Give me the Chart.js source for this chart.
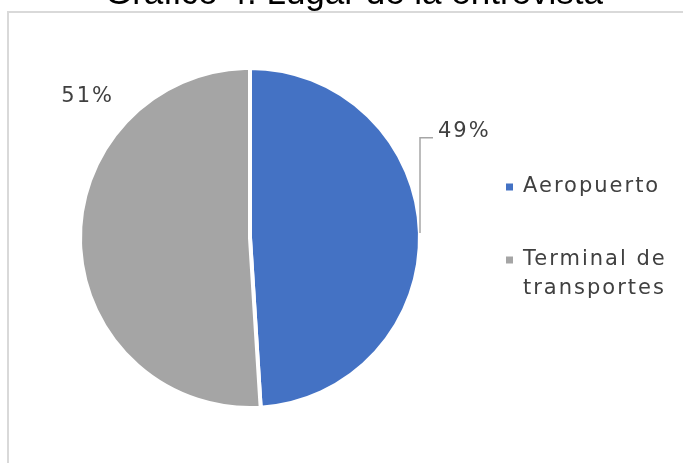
<!DOCTYPE html>
<html>
<head>
<meta charset="utf-8">
<script src="https://cdn.jsdelivr.net/npm/chart.js@4.4.0/dist/chart.umd.min.js"></script>
<style>
  html, body { margin: 0; padding: 0; background: #fff; overflow: hidden; }
  #wrap { position: relative; width: 683px; height: 463px; }
</style>
</head>
<body>
<div id="wrap"><canvas id="pieChart" width="683" height="463"></canvas></div>
<script>
// ===== data =====
const chartTitle = 'Gráfico 4. Lugar de la entrevista';
const categories = ['Aeropuerto', 'Terminal de transportes'];
const legendLines = [['Aeropuerto'], ['Terminal de', 'transportes']];
const shares = [49, 51];

const sliceColors = ['#4472C4', '#A5A5A5'];
const textColor = '#404040';
const labelFont = '21px "DejaVu Sans", sans-serif';

// frame, title, percentage labels and legend drawn around the pie
const pieDecor = {
  id: 'pieDecor',
  beforeDraw(chart) {
    const ctx = chart.ctx;
    ctx.save();
    ctx.strokeStyle = '#d9d9d9';
    ctx.lineWidth = 2;
    ctx.strokeRect(8, 12, 720, 520);
    ctx.fillStyle = '#000';
    ctx.font = '35px "Liberation Sans", Arial, sans-serif';
    ctx.textAlign = 'center';
    ctx.textBaseline = 'alphabetic';
    ctx.fillText(chartTitle, 354, 4);
    ctx.restore();
  },
  afterDraw(chart) {
    const ctx = chart.ctx;
    const arcs = chart.getDatasetMeta(0).data;
    const cx = arcs[0].x, cy = arcs[0].y, r = arcs[0].outerRadius;
    ctx.save();
    ctx.font = labelFont;
    ctx.letterSpacing = '2px';
    ctx.fillStyle = textColor;
    ctx.textBaseline = 'middle';

    // 49% with leader line
    const lx = cx + r, ly = cy - 5;
    const ty = cy - 0.59 * r;
    ctx.strokeStyle = '#a6a6a6';
    ctx.lineWidth = 1.5;
    ctx.beginPath();
    ctx.moveTo(lx, ly);
    ctx.lineTo(lx, ty);
    ctx.lineTo(lx + 13, ty);
    ctx.stroke();
    ctx.textAlign = 'left';
    ctx.fillText(shares[0] + '%', lx + 18, ty - 6);

    // 51%
    ctx.textAlign = 'center';
    ctx.fillText(shares[1] + '%', cx - 0.955 * r, cy - 0.83 * r);

    // legend
    const legX = 506, legY = [187, 260], lineH = 29;
    ctx.textAlign = 'left';
    legendLines.forEach((lines, i) => {
      ctx.fillStyle = sliceColors[i];
      ctx.fillRect(legX, legY[i] - 3.5, 7, 7);
      ctx.fillStyle = textColor;
      lines.forEach((t, j) => ctx.fillText(t, legX + 17, legY[i] + j * lineH));
    });
    ctx.restore();
  }
};

new Chart(document.getElementById('pieChart'), {
  type: 'pie',
  data: {
    labels: categories,
    datasets: [{
      data: shares,
      backgroundColor: sliceColors,
      borderColor: '#ffffff',
      borderWidth: 4
    }]
  },
  options: {
    responsive: false,
    animation: false,
    layout: { padding: { left: 78, right: 261, top: 66, bottom: 53 } },
    plugins: { legend: { display: false }, tooltip: { enabled: false } }
  },
  plugins: [pieDecor]
});
</script>
</body>
</html>
